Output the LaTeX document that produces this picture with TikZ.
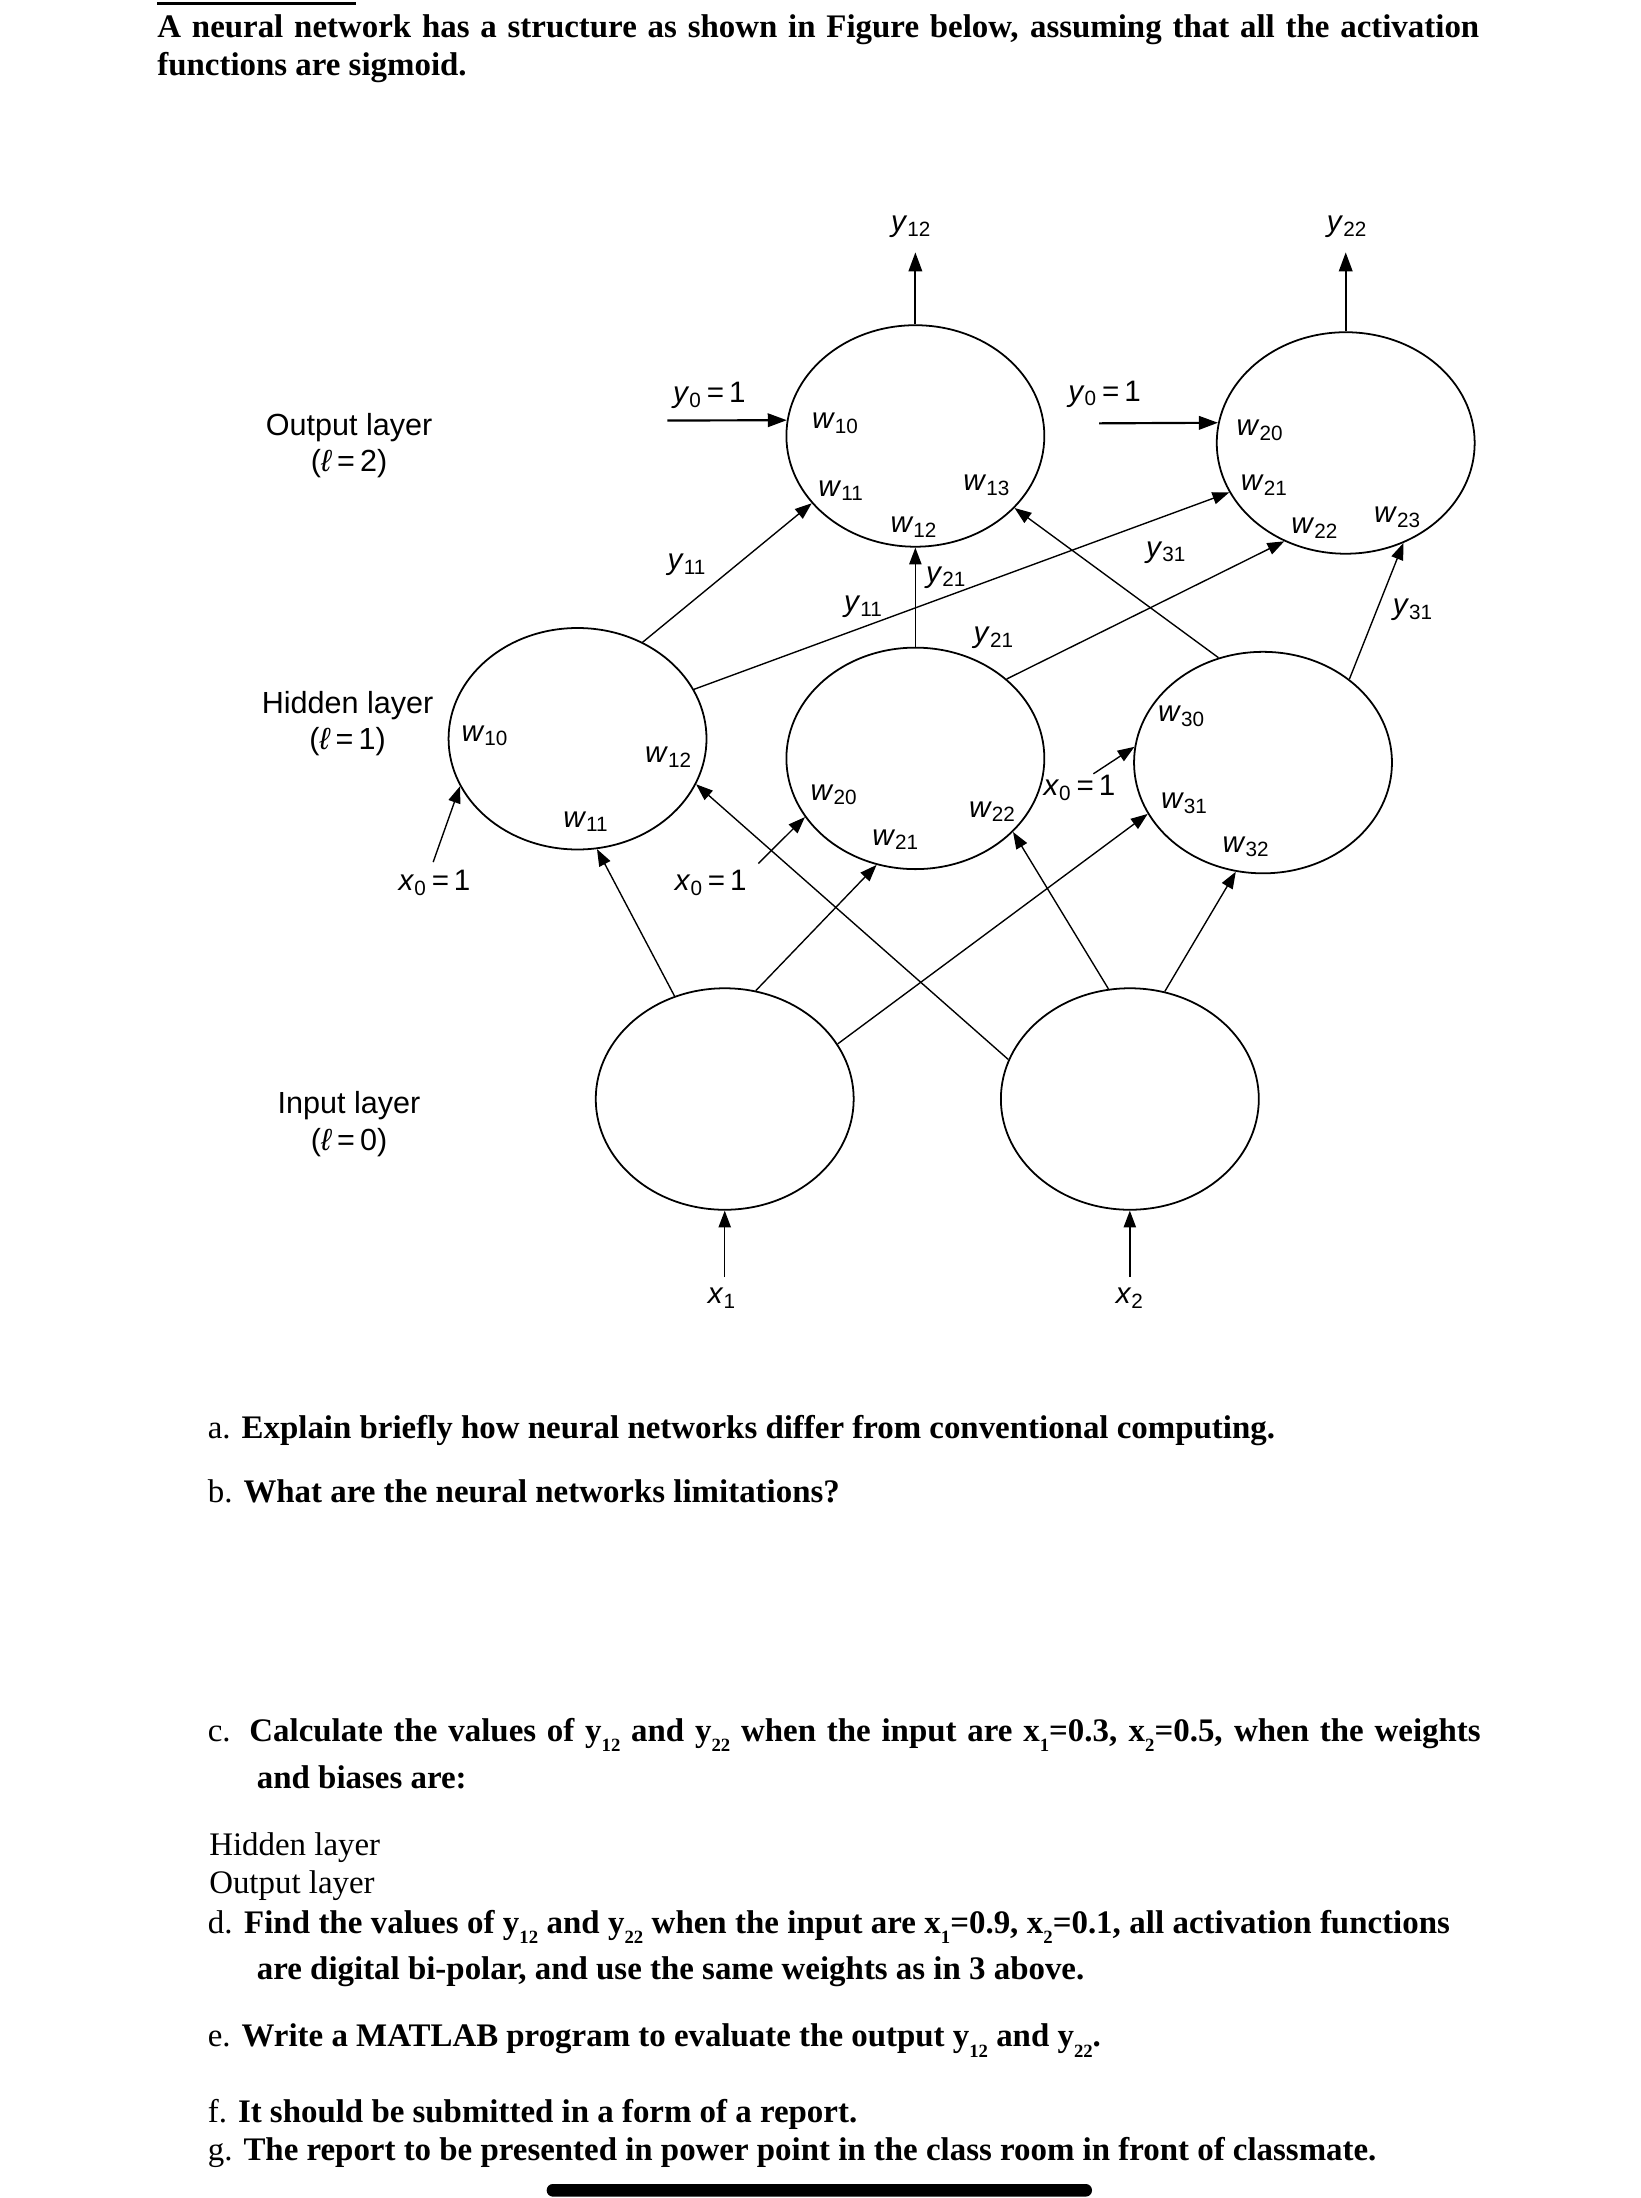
\documentclass[tikz,border=0pt]{standalone}
\usepackage{fontspec}
\setmainfont{Liberation Serif}
\setsansfont{Liberation Sans}
\usetikzlibrary{arrows.meta,shapes.geometric}

\tikzset{
  neuron/.style={draw, ellipse, line width=0.9pt, minimum width=46mm, minimum height=39.5mm, inner sep=0pt},
  link/.style={line width=0.7pt, -{Triangle[length=3mm,width=2.2mm]}},
  bias/.style={line width=1.1pt, -{Triangle[length=3.4mm,width=2.4mm]}},
  lab/.style={font=\sffamily\fontsize{15}{17}\selectfont, inner sep=1pt},
  layertxt/.style={font=\sffamily\fontsize{15.5}{18.5}\selectfont, align=center},
  qtxt/.style={font=\fontsize{16.7}{19}\selectfont\bfseries, anchor=base west, inner sep=0pt},
}
\newcommand\nv[2]{\textit{#1}\textsubscript{#2}}
\newcommand\qsub[1]{\raisebox{-0.32em}{\fontsize{9.5}{9.5}\selectfont #1}}

\begin{document}
\begin{tikzpicture}[x=0.25mm, y=-0.25mm]
\useasboundingbox (0,0) rectangle (1170,1568);

% heading
\draw[line width=1.5pt] (112,2.2) -- (254,2.2);
\node[qtxt] (ttl1) at (112,27) {\makebox[235.75mm][s]{A neural network has a structure as shown in Figure below, assuming that all the activation}};
\node[qtxt] (ttl2) at (112,54) {functions are sigmoid.};

% layers
\node[layertxt] (lout) at (249,318) {Output layer\\(\textit{ℓ}\,=\,2)};
\node[layertxt] (lhid) at (248,516) {Hidden layer\\(\textit{ℓ}\,=\,1)};
\node[layertxt] (linp) at (249,802) {Input layer\\(\textit{ℓ}\,=\,0)};

% neurons
\node[neuron] (o1) at (653,311) {};
\node[neuron] (o2) at (960,316) {};
\node[neuron] (h1) at (412,527) {};
\node[neuron] (h2) at (653,541) {};
\node[neuron] (h3) at (901,544) {};
\node[neuron] (i1) at (517,784) {};
\node[neuron] (i2) at (806,784) {};

% input -> hidden
\draw[link] (i1.116) -- (h1.280);
\draw[link] (i1.74) -- (h2.250);
\draw[link] (i1.26) -- (h3.204);
\draw[link] (i2.162) -- (h1.339);
\draw[link] (i2.101) -- (h2.323);
\draw[link] (i2.72) -- (h3.256);

% hidden -> output
\draw[link] (h1.56) -- (o1.213);
\draw[link] (h1.23) -- (o2.203);
\draw[link] (h2.north) -- (o1.south);
\draw[link] (h2.41) -- (o2.238);
\draw[link] (h3.113) -- (o1.324);
\draw[link] (h3.44) -- (o2.300);

% inputs
\coordinate (is1) at (517,911);
\coordinate (is2) at (806,911);
\draw[link] (is1) -- (i1.south);
\draw[link] (is2) -- (i2.south);
\node[lab] (x1) at (515,926) {\nv{x}{1}};
\node[lab] (x2) at (806,926) {\nv{x}{2}};

% hidden biases
\coordinate (xs1) at (309,615);
\coordinate (xs2) at (541,616);
\coordinate (xs3) at (780,552);
\draw[link] (xs1) -- (h1.202);
\draw[link] (xs2) -- (h2.208);
\draw[link] (xs3) -- (h3.173);
\node[lab] (xb1) at (310,630) {\nv{x}{0}\,=\,1};
\node[lab] (xb2) at (507,630) {\nv{x}{0}\,=\,1};
\node[lab] (xb3) at (770,562) {\nv{x}{0}\,=\,1};

% output biases
\coordinate (ys1) at (476,300);
\coordinate (ys2) at (784,302);
\draw[bias] (ys1) -- (o1.173);
\draw[bias] (ys2) -- (o2.171);
\node[lab] (yb1) at (506,282) {\nv{y}{0}\,=\,1};
\node[lab] (yb2) at (788,281) {\nv{y}{0}\,=\,1};

% outputs
\coordinate (ot1) at (653,180);
\coordinate (ot2) at (960,180);
\draw[bias] (o1.north) -- (ot1);
\draw[bias] (o2.north) -- (ot2);
\node[lab] (y12) at (650,162) {\nv{y}{12}};
\node[lab] (y22) at (961,162) {\nv{y}{22}};

% signal labels
\node[lab] (s11a) at (490,403) {\nv{y}{11}};
\node[lab] (s11b) at (616,433) {\nv{y}{11}};
\node[lab] (s21a) at (675,412) {\nv{y}{21}};
\node[lab] (s21b) at (709,455) {\nv{y}{21}};
\node[lab] (s31a) at (832,394) {\nv{y}{31}};
\node[lab] (s31b) at (1008,435) {\nv{y}{31}};

% weights
\node[lab] (wo10) at (596,302) {\nv{w}{10}};
\node[lab] (wo11) at (600,350) {\nv{w}{11}};
\node[lab] (wo12) at (652,376) {\nv{w}{12}};
\node[lab] (wo13) at (704,346) {\nv{w}{13}};
\node[lab] (wo20) at (899,307) {\nv{w}{20}};
\node[lab] (wo21) at (902,346) {\nv{w}{21}};
\node[lab] (wo22) at (938,377) {\nv{w}{22}};
\node[lab] (wo23) at (997,369) {\nv{w}{23}};
\node[lab] (wh10) at (346,525) {\nv{w}{10}};
\node[lab] (wh11) at (418,586) {\nv{w}{11}};
\node[lab] (wh12) at (477,540) {\nv{w}{12}};
\node[lab] (wh20) at (595,567) {\nv{w}{20}};
\node[lab] (wh21) at (639,599) {\nv{w}{21}};
\node[lab] (wh22) at (708,579) {\nv{w}{22}};
\node[lab] (wh30) at (843,511) {\nv{w}{30}};
\node[lab] (wh31) at (845,573) {\nv{w}{31}};
\node[lab] (wh32) at (889,604) {\nv{w}{32}};

% questions
\node[qtxt] (qa) at (148,1026) {{\mdseries a.} Explain briefly how neural networks differ from conventional computing.};
\node[qtxt] (qb) at (148,1072) {{\mdseries b.} What are the neural networks limitations?};
\node[qtxt] (qc) at (148,1242) {\makebox[227mm][s]{{\mdseries c.} Calculate the values of y\qsub{12} and y\qsub{22} when the input are x\qsub{1}=0.3, x\qsub{2}=0.5, when the weights}};
\node[qtxt] (qc2) at (183,1276) {and biases are:};
\node[qtxt, font=\fontsize{16.7}{19}\selectfont] (qhid) at (149,1324) {Hidden layer};
\node[qtxt, font=\fontsize{16.7}{19}\selectfont] (qout) at (149,1351) {Output layer};
\node[qtxt] (qd) at (148,1379) {\makebox[221.5mm][s]{{\mdseries d.} Find the values of y\qsub{12} and y\qsub{22} when the input are x\qsub{1}=0.9, x\qsub{2}=0.1, all activation functions}};
\node[qtxt] (qd2) at (183,1412) {are digital bi-polar, and use the same weights as in 3 above.};
\node[qtxt] (qe) at (148,1460) {{\mdseries e.} Write a MATLAB program to evaluate the output y\qsub{12} and y\qsub{22}.};
\node[qtxt] (qf) at (148,1514) {{\mdseries f.} It should be submitted in a form of a report.};
\node[qtxt] (qg) at (148,1541) {{\mdseries g.} The report to be presented in power point in the class room in front of classmate.};

% home bar
\fill[rounded corners=1.1mm] (390,1558) rectangle (779,1567);
\end{tikzpicture}
\end{document}
